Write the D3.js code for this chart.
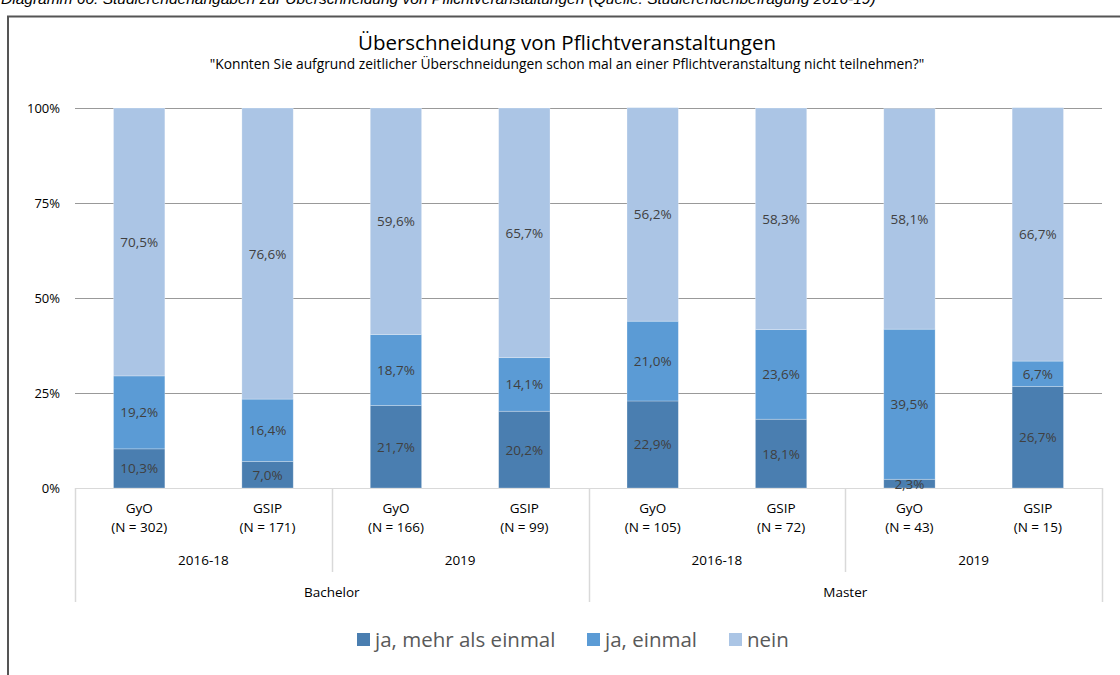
<!DOCTYPE html>
<html>
<head>
<meta charset="utf-8">
<script src="https://cdn.jsdelivr.net/npm/d3@7"></script>
<style>
  body { margin: 0; background: #fff; }
  svg { display: block; }
  text { font-family: "Open Sans", "Noto Sans", sans-serif; }
</style>
</head>
<body>
<div id="chart"></div>
<script>
const studies = ['GyO', 'GSIP', 'GyO', 'GSIP', 'GyO', 'GSIP', 'GyO', 'GSIP']
const counts = ['N = 302', 'N = 171', 'N = 166', 'N = 99', 'N = 105', 'N = 72', 'N = 43', 'N = 15']
const years = ['2016-18', '2019', '2016-18', '2019']
const degrees = ['Bachelor', 'Master']
const seriesNames = ['ja, mehr als einmal', 'ja, einmal', 'nein']
const mehrmals = [10.3, 7.0, 21.7, 20.2, 22.9, 18.1, 2.3, 26.7]
const einmal = [19.2, 16.4, 18.7, 14.1, 21.0, 23.6, 39.5, 6.7]
const nein = [70.5, 76.6, 59.6, 65.7, 56.2, 58.3, 58.1, 66.7]
const yTicks = [0, 25, 50, 75, 100]
const colors = ['#4a7eb0', '#5b9bd5', '#abc5e5']

const W = 1120, H = 675
const svg = d3.select('#chart').append('svg')
  .attr('width', W)
  .attr('height', H)

// caption above the frame, cut off at the top like in the source
svg.append('text')
  .attr('x', 1)
  .attr('y', 4)
  .style('font-family', '"Liberation Sans", Arial, sans-serif')
  .style('font-style', 'italic')
  .style('font-size', '15.5px')
  .attr('fill', '#000')
  .text('Diagramm 60: Studierendenangaben zur Überschneidung von Pflichtveranstaltungen (Quelle: Studierendenbefragung 2016-19)')

// chart frame
svg.append('rect')
  .attr('x', 8)
  .attr('y', 16.5)
  .attr('width', W + 20)
  .attr('height', H + 20)
  .attr('fill', 'none')
  .attr('stroke', '#555')
  .attr('stroke-width', 2)

svg.append('text')
  .attr('x', 567)
  .attr('y', 50)
  .attr('text-anchor', 'middle')
  .style('font-size', '20.5px')
  .attr('fill', '#000')
  .text('Überschneidung von Pflichtveranstaltungen')

svg.append('text')
  .attr('x', 567)
  .attr('y', 69)
  .attr('text-anchor', 'middle')
  .style('font-size', '13.8px')
  .attr('fill', '#000')
  .text('"Konnten Sie aufgrund zeitlicher Überschneidungen schon mal an einer Pflichtveranstaltung nicht teilnehmen?"')

const plot = { left: 75, right: 1102, top: 108, bottom: 488 }

const x = d3.scaleBand()
  .domain(d3.range(studies.length))
  .range([plot.left, plot.right])
  .paddingInner(0.6)
  .paddingOuter(0.3)

const y = d3.scaleLinear()
  .domain([0, 100])
  .range([plot.bottom, plot.top])

// gridlines + y labels
const yAxis = svg.append('g')
  .attr('transform', `translate(${plot.left},0)`)
  .call(d3.axisLeft(y).tickValues(yTicks).tickSize(-(plot.right - plot.left)).tickFormat(d => d + '%').tickPadding(15))
yAxis.select('.domain').remove()
yAxis.selectAll('.tick line').attr('stroke', '#999').attr('stroke-width', 1)
yAxis.selectAll('.tick').filter(d => d === 0).select('line').remove()
yAxis.selectAll('.tick text')
  .style('font-size', '13px')
  .style('font-family', '"Open Sans", "Noto Sans", sans-serif')
  .attr('fill', '#000')

// multi-level category axis lines (below the bars and their labels)
const axisColor = '#d9d9d9'
const edge = i => plot.left + i * (plot.right - plot.left) / studies.length

svg.append('line')
  .attr('x1', plot.left).attr('x2', plot.right)
  .attr('y1', plot.bottom + 0.5).attr('y2', plot.bottom + 0.5)
  .attr('stroke', axisColor)

// separators: long ones at degree edges, shorter ones between years
const seps = [
  { i: 0, depth: 602 }, { i: 2, depth: 572 }, { i: 4, depth: 602 },
  { i: 6, depth: 572 }, { i: 8, depth: 602 }
]
svg.selectAll('line.sep')
  .data(seps)
  .enter()
  .append('line')
  .attr('class', 'sep')
  .attr('x1', d => Math.round(edge(d.i)) + 0.5)
  .attr('x2', d => Math.round(edge(d.i)) + 0.5)
  .attr('y1', plot.bottom)
  .attr('y2', d => d.depth)
  .attr('stroke', axisColor)
  .attr('stroke-width', 1.5)

// stacked bars
const rows = studies.map((s, i) => ({ i, mehrmals: mehrmals[i], einmal: einmal[i], nein: nein[i] }))
const stack = d3.stack().keys(['mehrmals', 'einmal', 'nein'])(rows)

const layer = svg.selectAll('g.layer')
  .data(stack)
  .enter()
  .append('g')
  .attr('class', 'layer')
  .attr('fill', (d, k) => colors[k])

layer.selectAll('rect')
  .data(d => d)
  .enter()
  .append('rect')
  .attr('x', d => x(d.data.i))
  .attr('width', x.bandwidth())
  .attr('y', d => y(d[1]))
  .attr('height', d => y(d[0]) - y(d[1]))
  .attr('stroke', '#ffffff')
  .attr('stroke-opacity', 0.35)
  .attr('stroke-width', 0.75)

layer.selectAll('text')
  .data(d => d)
  .enter()
  .append('text')
  .attr('x', d => x(d.data.i) + x.bandwidth() / 2)
  .attr('y', d => (y(d[0]) + y(d[1])) / 2 + 5)
  .attr('text-anchor', 'middle')
  .style('font-size', '13.5px')
  .attr('fill', '#404040')
  .text(d => d3.format('.1f')(d[1] - d[0]).replace('.', ',') + '%')

const cat = svg.append('g').style('font-size', '13.5px').attr('fill', '#000')
studies.forEach((s, i) => {
  const cx = x(i) + x.bandwidth() / 2
  cat.append('text').attr('x', cx).attr('y', 513).attr('text-anchor', 'middle').text(s)
  cat.append('text').attr('x', cx).attr('y', 532).attr('text-anchor', 'middle').text('(' + counts[i] + ')')
})
years.forEach((yr, j) => {
  cat.append('text')
    .attr('x', (edge(j * 2) + edge(j * 2 + 2)) / 2)
    .attr('y', 565)
    .attr('text-anchor', 'middle')
    .text(yr)
})
degrees.forEach((dg, j) => {
  cat.append('text')
    .attr('x', (edge(j * 4) + edge(j * 4 + 4)) / 2)
    .attr('y', 597)
    .attr('text-anchor', 'middle')
    .text(dg)
})

// legend
const legendX = [357, 587, 729]
const legend = svg.selectAll('g.legend')
  .data(seriesNames)
  .enter()
  .append('g')
  .attr('class', 'legend')
  .attr('transform', (d, k) => `translate(${legendX[k]},633)`)

legend.append('rect')
  .attr('width', 13)
  .attr('height', 13)
  .attr('fill', (d, k) => colors[k])

legend.append('text')
  .attr('x', 18)
  .attr('y', 13.5)
  .style('font-size', '20.5px')
  .attr('fill', '#595959')
  .text(d => d)
</script>
</body>
</html>
